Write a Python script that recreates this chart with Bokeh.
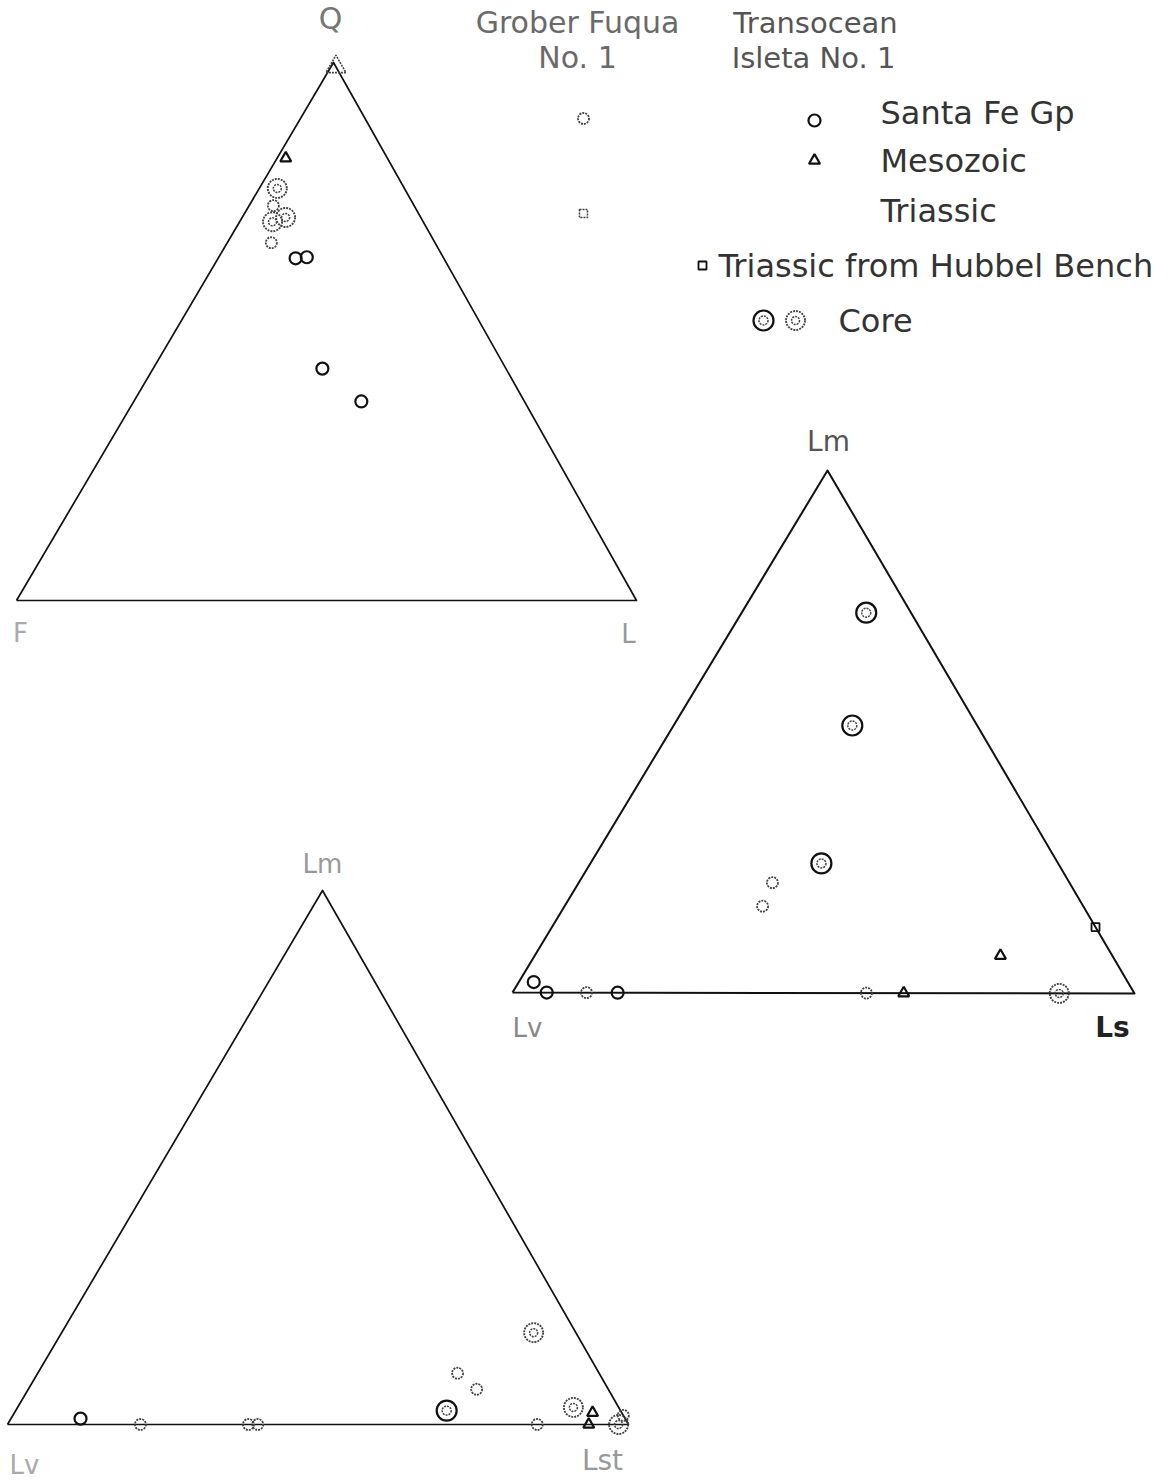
from bokeh.plotting import figure
from bokeh.models import Range1d, ColumnDataSource
from bokeh.core.properties import value
from bokeh.embed import file_html
from bokeh.resources import INLINE

# ---------------------------------------------------------------
# Point-count compositions (percent of each pole)
# ---------------------------------------------------------------
# Q - F - L
QFL_Q = [99.2, 82.2, 76.6, 73.4, 70.4, 71.2, 66.5, 63.6, 63.8, 43.1, 37.0]
QFL_F = [0.0, 16.4, 20.5, 22.7, 24.3, 21.8, 26.4, 23.9, 22.0, 29.6, 26.3]
QFL_L = [0.8, 1.4, 2.9, 3.9, 5.3, 7.0, 7.1, 12.5, 14.2, 27.3, 36.7]
QFL_KIND = ["g_meso", "meso", "g_core", "g_sf", "g_core", "g_core",
            "g_sf", "sf", "sf", "sf", "sf"]

# Lm - Lv - Ls
LMS_LM = [72.8, 51.2, 24.8, 21.1, 16.6, 12.7, 7.2, 2.0, 0.0, 0.0, 0.0, 0.0, 0.0, 0.0]
LMS_LV = [7.2, 20.1, 38.1, 47.8, 51.6, 0.0, 18.0, 95.6, 94.5, 88.1, 83.1, 43.1, 37.1, 12.1]
LMS_LS = [20.0, 28.7, 37.1, 31.1, 31.8, 87.3, 74.8, 2.4, 5.5, 11.9, 16.9, 56.9, 62.9, 87.9]
LMS_KIND = ["core", "core", "core", "g_sf", "g_sf", "hub", "meso",
            "sf", "sf", "g_sf", "sf", "g_sf", "meso", "g_core"]

# Lm - Lv - Lst
LMT_LM = [17.2, 9.6, 6.6, 2.6, 0.0, 3.2, 2.2, 0.0, 0.0, 1.7, 1.1, 0.0, 0.0, 0.0]
LMT_LV = [6.8, 22.8, 21.2, 28.0, 14.7, 7.3, 4.7, 6.4, 1.6, 0.0, 87.7, 78.6, 61.2, 59.7]
LMT_LST = [76.0, 67.6, 72.2, 69.4, 85.3, 89.5, 93.1, 93.6, 98.4, 98.3, 11.2, 21.4, 38.8, 40.3]
LMT_KIND = ["g_core", "g_sf", "g_sf", "core", "g_sf", "g_core", "meso",
            "meso", "g_core", "g_sf", "sf", "g_sf", "g_sf", "g_sf"]

# Legend entries
HEAD_LEFT = ["Grober Fuqua", "No. 1"]
HEAD_RIGHT = ["Transocean", "Isleta No. 1"]
LEGEND_LABELS = ["Santa Fe Gp", "Mesozoic", "Triassic",
                 "Triassic from Hubbel Bench", "Core"]

# ---------------------------------------------------------------
# Page layout: one canvas in page pixels, y increasing downward
# ---------------------------------------------------------------
W, H = 1171, 1480
p = figure(width=W, height=H, x_range=Range1d(0, W), y_range=Range1d(H, 0),
           output_backend="svg", toolbar_location=None, min_border=0)
p.axis.visible = False
p.grid.visible = False
p.outline_line_color = None
p.background_fill_color = "white"
p.border_fill_color = "white"

# triangle frames: (apex, lower-left, lower-right)
TRI_QFL = ((333, 62), (16, 600), (636, 600))
TRI_LMS = ((827, 470), (512, 992), (1134, 993))
TRI_LMT = ((322, 890), (7, 1424), (628, 1424))

FONT = value("DejaVu Sans")


def ternary(tri, apex, left, right):
    xs, ys = [], []
    (ax, ay), (bx, by), (cx, cy) = tri
    for a, b, c in zip(apex, left, right):
        s = a + b + c
        xs.append((a * ax + b * bx + c * cx) / s)
        ys.append((a * ay + b * by + c * cy) / s)
    return xs, ys


for tri, width in ((TRI_QFL, 1.7), (TRI_LMS, 2.0), (TRI_LMT, 1.7)):
    (ax, ay), (bx, by), (cx, cy) = tri
    p.line([bx, ax, cx, bx], [by, ay, cy, by], line_color="#111",
           line_width=width, line_join="round")

px, py, pk = [], [], []
for tri, a, b, c, k in ((TRI_QFL, QFL_Q, QFL_F, QFL_L, QFL_KIND),
                        (TRI_LMS, LMS_LM, LMS_LV, LMS_LS, LMS_KIND),
                        (TRI_LMT, LMT_LM, LMT_LV, LMT_LST, LMT_KIND)):
    xs, ys = ternary(tri, a, b, c)
    px += xs
    py += ys
    pk += k

# legend sample positions
LEG_X = [583, 583, 814, 814, 702, 763, 795]
LEG_Y = [118, 213, 120, 160, 265, 320, 320]
LEG_K = ["g_sf", "g_tri", "sf", "meso", "hub", "core", "g_core"]
px += LEG_X
py += LEG_Y
pk += LEG_K

GRAY = "#444444"
STYLE = {
    "sf": [dict(marker="circle", size=12, line_color="#111", line_width=2.2,
                line_dash="solid")],
    "g_sf": [dict(marker="circle", size=11, line_color=GRAY, line_width=1.8,
                  line_dash="2 1")],
    "meso": [dict(marker="triangle", size=11, line_color="#111", line_width=2.2,
                  line_dash="solid")],
    "g_meso": [dict(marker="triangle", size=20, line_color=GRAY, line_width=1.6,
                    line_dash="2 1")],
    "hub": [dict(marker="square", size=8, line_color="#111", line_width=1.8,
                 line_dash="solid")],
    "g_tri": [dict(marker="square", size=8, line_color=GRAY, line_width=1.6,
                   line_dash="2 1")],
    "core": [dict(marker="circle", size=20, line_color="#111", line_width=2.2,
                  line_dash="solid"),
             dict(marker="circle", size=9, line_color=GRAY, line_width=1.5,
                  line_dash="2 1")],
    "g_core": [dict(marker="circle", size=19, line_color=GRAY, line_width=1.9,
                    line_dash="2 1"),
               dict(marker="circle", size=8, line_color=GRAY, line_width=1.5,
                    line_dash="2 1")],
}

for kind, layers in STYLE.items():
    idx = [i for i, k in enumerate(pk) if k == kind]
    if not idx:
        continue
    src = ColumnDataSource(dict(x=[px[i] for i in idx], y=[py[i] for i in idx]))
    for st in layers:
        p.scatter("x", "y", source=src, fill_color=None, **st)

# headers above the legend columns
p.text(x=[577, 577], y=[22, 57], text=HEAD_LEFT, text_font=FONT,
       text_font_size="30px", text_color="#6a6a6a", text_align="center",
       text_baseline="middle")
p.text(x=[815, 813], y=[22, 57], text=HEAD_RIGHT, text_font=FONT,
       text_font_size="29px", text_color="#555", text_align="center",
       text_baseline="middle")

# legend labels
p.text(x=[880, 880, 880, 718, 838], y=[112, 160, 210, 265, 320],
       text=LEGEND_LABELS, text_font=FONT, text_font_size="32px",
       text_color="#333333", text_align="left", text_baseline="middle")

# pole labels
POLES = [("Q", 330, 18, "#777", "30px", "normal"),
         ("F", 20, 632, "#aaa", "26px", "normal"),
         ("L", 628, 633, "#999", "26px", "normal"),
         ("Lm", 828, 441, "#555", "28px", "normal"),
         ("Lv", 527, 1027, "#888", "26px", "normal"),
         ("Ls", 1112, 1027, "#222", "28px", "bold"),
         ("Lm", 322, 863, "#999", "26px", "normal"),
         ("Lv", 24, 1464, "#aaa", "26px", "normal"),
         ("Lst", 602, 1460, "#999", "28px", "normal")]
for t, x, y, col, fs, st in POLES:
    p.text(x=[x], y=[y], text=[t], text_font=FONT, text_font_size=fs,
           text_color=col, text_font_style=st, text_align="center",
           text_baseline="middle")

open("out.html", "w").write(file_html(p, INLINE))
